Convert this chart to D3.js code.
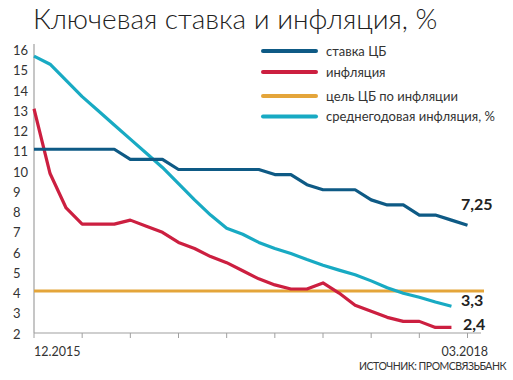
<!DOCTYPE html>
<html>
<head>
<meta charset="utf-8">
<script src="https://cdn.jsdelivr.net/npm/d3@7"></script>
<style>
  body { margin: 0; background: #fff; }
  svg { font-family: Lato, "Open Sans", sans-serif; }
</style>
</head>
<body>
<svg width="513" height="380"></svg>
<script>
// monthly, 12.2015 .. 03.2018
var months = ["12.2015","01.2016","02.2016","03.2016","04.2016","05.2016","06.2016","07.2016","08.2016",
  "09.2016","10.2016","11.2016","12.2016","01.2017","02.2017","03.2017","04.2017","05.2017","06.2017",
  "07.2017","08.2017","09.2017","10.2017","11.2017","12.2017","01.2018","02.2018","03.2018"];
var keyRate = [11,11,11,11,11,11,10.5,10.5,10.5,10,10,10,10,10,10,9.75,9.75,9.25,9,9,9,8.5,8.25,8.25,7.75,7.75,7.5,7.25];
var inflation = [13,9.8,8.1,7.3,7.3,7.3,7.5,7.2,6.9,6.4,6.1,5.7,5.4,5.0,4.6,4.3,4.1,4.1,4.4,3.9,3.3,3.0,2.7,2.5,2.5,2.2,2.2];
var target = [4,4];
var avgInflation = [15.6,15.2,14.4,13.6,12.9,12.2,11.5,10.8,10.1,9.3,8.5,7.75,7.1,6.8,6.4,6.1,5.85,5.55,5.27,5.03,4.8,4.5,4.16,3.89,3.69,3.46,3.25];
var yTicks = [2,3,4,5,6,7,8,9,10,11,12,13,14,15,16];
var xTicks = [0,3,6,9,12,15,18,21,24,27];
var series = [
  {name: "ставка ЦБ", values: keyRate, color: "#0e5a85"},
  {name: "инфляция", values: inflation, color: "#cc1f40"},
  {name: "цель ЦБ по инфляции", values: null, color: "#e4a53a"},
  {name: "среднегодовая инфляция, %", values: avgInflation, color: "#18aac3"}
];

var svg = d3.select("svg");
var x = d3.scaleLinear().domain([0, 27]).range([34, 467.5]);
var y = d3.scaleLinear().domain([2, 16]).range([331.5, 48]);

svg.append("text").attr("x", 33).attr("y", 29)
  .attr("font-size", 28).attr("font-weight", 300).attr("fill", "#222")
  .text("Ключевая ставка и инфляция, %");

// axes
svg.append("line").attr("x1", 34).attr("x2", 34).attr("y1", 44).attr("y2", 333)
  .attr("stroke", "#a0a0a0").attr("stroke-width", 1.2);
svg.append("line").attr("x1", 34).attr("x2", 481).attr("y1", 333).attr("y2", 333)
  .attr("stroke", "#a0a0a0").attr("stroke-width", 1.2);
svg.selectAll(".xt").data(xTicks).enter().append("line")
  .attr("x1", d => x(d)).attr("x2", d => x(d)).attr("y1", 333).attr("y2", 338)
  .attr("stroke", "#a0a0a0");
svg.selectAll(".yl").data(yTicks).enter().append("text")
  .attr("x", 13).attr("y", d => y(d) + 7)
  .attr("font-size", 13).attr("fill", "#333").text(d => d);

svg.append("text").attr("x", 34).attr("y", 356).attr("font-size", 12.5).attr("fill", "#333").text(months[0]);
svg.append("text").attr("x", 488).attr("y", 356).attr("text-anchor", "end").attr("font-size", 12.5).attr("fill", "#333").text(months[27]);
svg.append("text").attr("x", 506).attr("y", 370).attr("text-anchor", "end").attr("font-size", 10.5)
  .attr("letter-spacing", -0.5).attr("fill", "#333").text("ИСТОЧНИК: ПРОМСВЯЗЬБАНК");

var line = d3.line().x((d, i) => x(i)).y(d => y(d));

// target line spans whole axis
svg.append("line").attr("x1", 34).attr("x2", 484).attr("y1", y(target[0])).attr("y2", y(target[1]))
  .attr("stroke", series[2].color).attr("stroke-width", 3);

[series[3], series[1], series[0]].forEach(function(s) {
  svg.append("path").datum(s.values).attr("d", line)
    .attr("fill", "none").attr("stroke", s.color).attr("stroke-width", 3.2)
    .attr("stroke-linejoin", "round");
});

// end labels
var endLabels = [
  {t: "7,25", x: 461, y: 210},
  {t: "3,3", x: 461, y: 306},
  {t: "2,4", x: 463, y: 330}
];
svg.selectAll(".el").data(endLabels).enter().append("text")
  .attr("x", d => d.x).attr("y", d => d.y)
  .attr("font-size", 16).attr("font-weight", "bold").attr("fill", "#222").text(d => d.t);

// legend
var legY = [51, 72, 96, 116.5];
var leg = svg.selectAll(".leg").data(series).enter().append("g")
  .attr("transform", (d, i) => "translate(0," + legY[i] + ")");
leg.append("line").attr("x1", 263).attr("x2", 316)
  .attr("stroke", d => d.color).attr("stroke-width", 4).attr("stroke-linecap", "round");
leg.append("text").attr("x", 326).attr("y", 4.5).attr("font-size", 13).attr("fill", "#333").text(d => d.name);
</script>
</body>
</html>
